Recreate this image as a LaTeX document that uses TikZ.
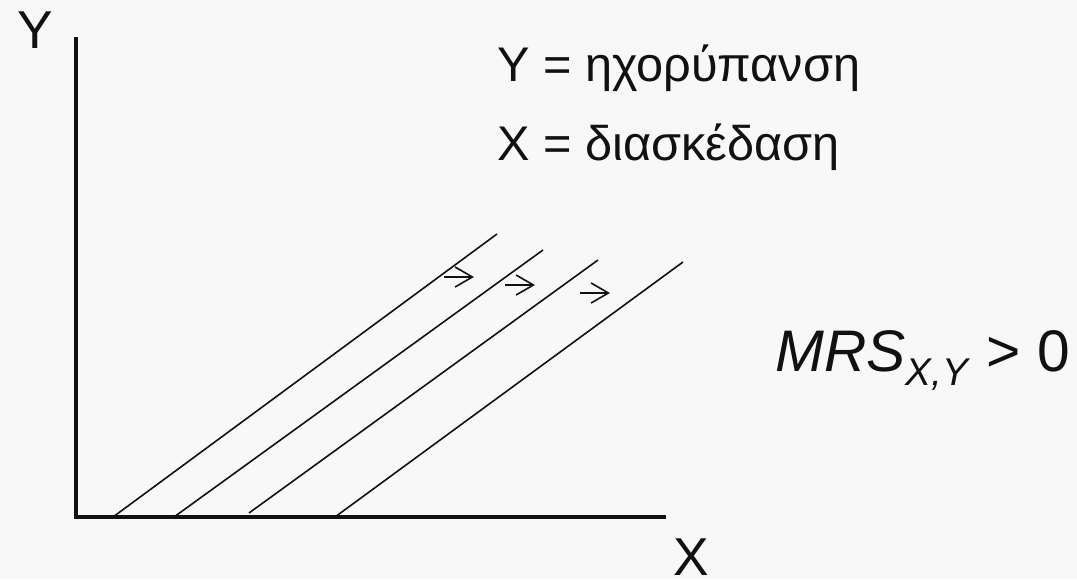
\documentclass[tikz,border=0pt]{standalone}
\usepackage{fontspec}
\setmainfont{Liberation Sans}
\usetikzlibrary{arrows.meta}
\definecolor{bg}{RGB}{248,248,248}
\definecolor{ink}{RGB}{17,17,17}
\begin{document}
\begin{tikzpicture}[x=0.75pt,y=-0.75pt,
  axis/.style={line width=2.8pt,draw=ink,line join=miter},
  indiff/.style={line width=1.2pt,draw=ink},
  shiftarrow/.style={line width=1.2pt,draw=ink,-{Straight Barb[length=13pt,width=15pt,line width=1.2pt]}},
  lab/.style={inner sep=0pt,anchor=base west,text=ink}]
\fill[bg] (0,0) rectangle (1077,579);
\useasboundingbox (0,0) rectangle (1077,579);
% axes
\coordinate (ytop) at (76,37);
\coordinate (O) at (76,517);
\coordinate (xend) at (666,517);
\draw[axis] (ytop) -- (O) -- (xend);
% indifference lines
\coordinate (a1) at (113,517); \coordinate (b1) at (497,234);
\coordinate (a2) at (174,517); \coordinate (b2) at (543,250);
\coordinate (a3) at (249,513); \coordinate (b3) at (598,260);
\coordinate (a4) at (335,517); \coordinate (b4) at (683,262);
\draw[indiff] (a1) -- (b1);
\draw[indiff] (a2) -- (b2);
\draw[indiff] (a3) -- (b3);
\draw[indiff] (a4) -- (b4);
% shift arrows
\coordinate (s1) at (444,277); \coordinate (t1) at (474,277);
\coordinate (s2) at (505,285); \coordinate (t2) at (535,285);
\coordinate (s3) at (580,293); \coordinate (t3) at (610,293);
\draw[shiftarrow] (s1) -- (t1);
\draw[shiftarrow] (s2) -- (t2);
\draw[shiftarrow] (s3) -- (t3);
% labels
\node[lab,font=\fontsize{40pt}{40pt}\selectfont] (ylab) at (17,48) {Y};
\node[lab,font=\fontsize{40pt}{40pt}\selectfont] (xlab) at (673,575) {X};
\node[lab,font=\fontsize{36.5pt}{36.5pt}\selectfont] (ydef) at (497,81) {Y = ηχορύπανση};
\node[lab,font=\fontsize{36.5pt}{36.5pt}\selectfont] (xdef) at (497,160) {X = διασκέδαση};
\node[lab,font=\fontsize{44pt}{44pt}\selectfont] (mrs) at (775,371) {\textit{MRS}\raisebox{-11pt}{\fontsize{29pt}{29pt}\selectfont\textit{X,Y}} {>} 0};
\end{tikzpicture}
\end{document}
